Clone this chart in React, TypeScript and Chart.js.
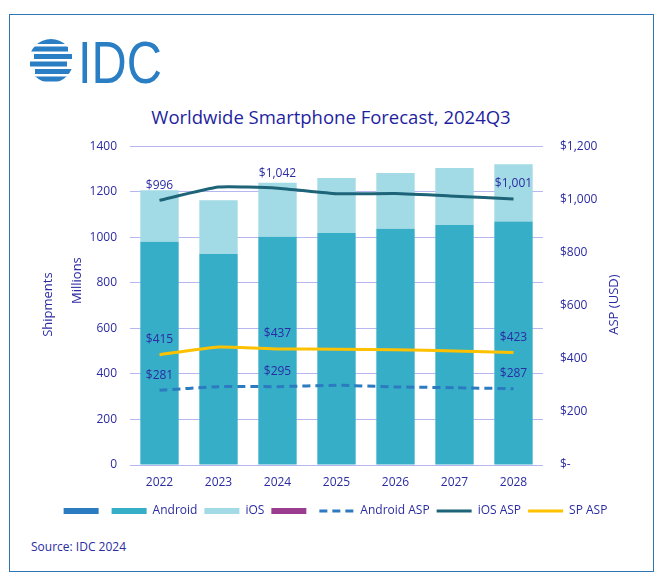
import { useEffect, useRef } from "react";
import { Chart, registerables } from "chart.js";

Chart.register(...registerables);

const years = ["2022", "2023", "2024", "2025", "2026", "2027", "2028"];
const androidUnits = [980, 927, 1002, 1019, 1037, 1054, 1069];
const iosUnits = [227, 236, 238, 241, 245, 250, 252];
const androidAsp = [281, 295, 295, 300, 294, 291, 287];
const iosAsp = [996, 1046, 1042, 1021, 1022, 1012, 1001];
const spAsp = [415, 444, 437, 436, 434, 429, 423];
const labeledYears = ["2022", "2024", "2028"];

const FONT = "'Open Sans', 'Noto Sans', sans-serif";
const NAVY = "#2b2ba3";
const GRID = "#b6b6f0";
const C_ANDROID = "#36aec8";
const C_IOS = "#a2dae5";
const C_ANDROID_ASP = "#2c7bc0";
const C_IOS_ASP = "#1d6479";
const C_SP_ASP = "#fec100";
const C_BLANK_BLUE = "#2a7bbf";
const C_BLANK_PURPLE = "#9b3d8e";

const fmtUsd = (v: number) => "$" + v.toLocaleString("en-US");

const aspLabels = {
  id: "aspLabels",
  afterDatasetsDraw(chart: any) {
    const ctx = chart.ctx;
    ctx.save();
    ctx.font = `12px ${FONT}`;
    ctx.fillStyle = NAVY;
    ctx.textAlign = "center";
    ctx.textBaseline = "middle";
    chart.data.datasets.forEach((ds: any, di: number) => {
      if (ds.type !== "line") return;
      const meta = chart.getDatasetMeta(di);
      labeledYears.forEach((y) => {
        const i = years.indexOf(y);
        const p = meta.data[i];
        if (!p) return;
        ctx.fillText(fmtUsd(ds.data[i]), p.x, p.y - 15);
      });
    });
    ctx.restore();
  },
};

const axisTitles = {
  id: "axisTitles",
  afterDraw(chart: any) {
    const { ctx, chartArea } = chart;
    const midY = (chartArea.top + chartArea.bottom) / 2;
    const draw = (text: string, x: number, y: number) => {
      ctx.save();
      ctx.translate(x, y);
      ctx.rotate(-Math.PI / 2);
      ctx.font = `13px ${FONT}`;
      ctx.fillStyle = NAVY;
      ctx.textAlign = "center";
      ctx.textBaseline = "middle";
      ctx.fillText(text, 0, 0);
      ctx.restore();
    };
    draw("Shipments", chartArea.left - 82, midY - 1);
    draw("Millions", chartArea.left - 53, midY - 25);
    draw("ASP (USD)", chartArea.right + 71, midY - 1);
  },
};

const CANVAS_TOP = 122;
const CANVAS_H = 413;

function ChartCanvas() {
  const ref = useRef<HTMLCanvasElement | null>(null);
  useEffect(() => {
    if (!ref.current) return;
    const chart = new Chart(ref.current, {
      type: "bar",
      data: {
        labels: years,
        datasets: [
          {
            type: "line",
            label: "Android ASP",
            data: androidAsp,
            yAxisID: "y1",
            borderColor: C_ANDROID_ASP,
            backgroundColor: C_ANDROID_ASP,
            borderWidth: 3,
            borderDash: [8, 5],
            pointRadius: 0,
            tension: 0.15,
            order: 1,
          },
          {
            type: "line",
            label: "iOS ASP",
            data: iosAsp,
            yAxisID: "y1",
            borderColor: C_IOS_ASP,
            backgroundColor: C_IOS_ASP,
            borderWidth: 3,
            pointRadius: 0,
            tension: 0.15,
            order: 1,
          },
          {
            type: "line",
            label: "SP ASP",
            data: spAsp,
            yAxisID: "y1",
            borderColor: C_SP_ASP,
            backgroundColor: C_SP_ASP,
            borderWidth: 3,
            pointRadius: 0,
            tension: 0.15,
            order: 1,
          },
          {
            type: "bar",
            label: "Android",
            data: androidUnits,
            yAxisID: "y",
            backgroundColor: C_ANDROID,
            barPercentage: 0.65,
            categoryPercentage: 1,
            order: 2,
          },
          {
            type: "bar",
            label: "iOS",
            data: iosUnits,
            yAxisID: "y",
            backgroundColor: C_IOS,
            barPercentage: 0.65,
            categoryPercentage: 1,
            order: 2,
          },
        ] as any,
      },
      options: {
        animation: false,
        responsive: false,
        maintainAspectRatio: false,
        layout: { padding: { left: 7, right: 0, top: 10, bottom: 8 } },
        scales: {
          x: {
            stacked: true,
            grid: { display: false, drawTicks: false },
            border: { display: false },
            ticks: { color: NAVY, font: { family: FONT, size: 12 }, padding: 10 },
            afterFit: (s: any) => {
              s.height = 33;
            },
          },
          y: {
            stacked: true,
            position: "left",
            min: 0,
            max: 1400,
            ticks: {
              stepSize: 200,
              color: NAVY,
              font: { family: FONT, size: 12 },
              padding: 13,
              callback: (v: any) => String(v),
            },
            grid: { color: GRID, lineWidth: 1, drawTicks: false },
            border: { display: false },
            afterFit: (s: any) => {
              s.width = 113;
            },
          },
          y1: {
            position: "right",
            min: 0,
            max: 1200,
            ticks: {
              stepSize: 200,
              color: NAVY,
              font: { family: FONT, size: 12 },
              padding: 17,
              callback: (v: any) => (Number(v) === 0 ? "$-" : fmtUsd(Number(v))),
            },
            grid: { display: false, drawTicks: false },
            border: { display: false },
            afterFit: (s: any) => {
              s.width = 111;
            },
          },
        },
        plugins: {
          tooltip: { enabled: false },
          title: { display: false },
          legend: {
            display: true,
            position: "bottom",
            onClick: () => {},
            labels: {
              color: NAVY,
              font: { family: FONT, size: 12 },
              usePointStyle: true,
              pointStyleWidth: 35,
              boxHeight: 6,
              padding: 7,
              generateLabels: (c: any) => {
                const ds = c.data.datasets;
                const find = (name: string) => ds.find((d: any) => d.label === name);
                const rectItem = (text: string, color: string) => ({
                  text,
                  fillStyle: color,
                  strokeStyle: "rgba(0,0,0,0)",
                  lineWidth: 0,
                  pointStyle: "rect",
                  hidden: false,
                  fontColor: NAVY,
                });
                const lineItem = (d: any) => ({
                  text: d.label,
                  fillStyle: "rgba(0,0,0,0)",
                  strokeStyle: d.borderColor,
                  lineWidth: 3,
                  lineDash: d.borderDash || [],
                  pointStyle: "line",
                  hidden: false,
                  fontColor: NAVY,
                });
                return [
                  rectItem("", C_BLANK_BLUE),
                  rectItem("Android", find("Android").backgroundColor),
                  rectItem("iOS", find("iOS").backgroundColor),
                  rectItem("", C_BLANK_PURPLE),
                  lineItem(find("Android ASP")),
                  lineItem(find("iOS ASP")),
                  lineItem(find("SP ASP")),
                ];
              },
            },
          },
        },
      } as any,
      plugins: [aspLabels, axisTitles],
    });
    return () => chart.destroy();
  }, []);
  return (
    <canvas
      ref={ref}
      width={644}
      height={CANVAS_H}
      style={{ position: "absolute", left: 10, top: CANVAS_TOP, width: 644, height: CANVAS_H }}
    />
  );
}

function Logo() {
  const rows = [
    [30, 72],
    [30, 68],
    [34, 72],
    [30, 67],
    [35, 72],
    [30, 72],
  ];
  return (
    <svg
      width={150}
      height={60}
      viewBox="0 0 150 60"
      style={{ position: "absolute", left: 20, top: 32 }}
    >
      <defs>
        <clipPath id="globeClip">
          <circle cx={31} cy={29} r={22} />
        </clipPath>
      </defs>
      <g clipPath="url(#globeClip)" fill="#2a7fc4">
        {rows.map((r, i) => (
          <rect key={i} x={r[0] - 20} y={7 + i * 7.5} width={r[1] - r[0]} height={5} />
        ))}
      </g>
      <text
        x={58}
        y={51}
        fontFamily="'Liberation Sans', Arial, sans-serif"
        fontSize={60}
        fill="#2a7fc4"
        textLength={84}
        lengthAdjust="spacingAndGlyphs"
      >
        IDC
      </text>
    </svg>
  );
}

export default function App() {
  return (
    <div style={{ position: "absolute", left: 0, top: 0, width: 667, height: 588, background: "#fff", fontFamily: FONT }}>
      <div
        style={{
          position: "absolute",
          left: 9,
          top: 14,
          width: 645,
          height: 558,
          border: "1px solid #2e75b6",
          boxSizing: "border-box",
        }}
      />
      <Logo />
      <div
        style={{
          position: "absolute",
          left: 0,
          top: 104,
          width: 662,
          textAlign: "center",
          fontSize: 18.5,
          lineHeight: "26px",
          color: "#1f1f9f",
        }}
      >
        Worldwide Smartphone Forecast, 2024Q3
      </div>
      <ChartCanvas />
      <div
        style={{
          position: "absolute",
          left: 31,
          top: 539,
          fontSize: 12,
          lineHeight: "16px",
          color: NAVY,
        }}
      >
        Source: IDC 2024
      </div>
    </div>
  );
}
